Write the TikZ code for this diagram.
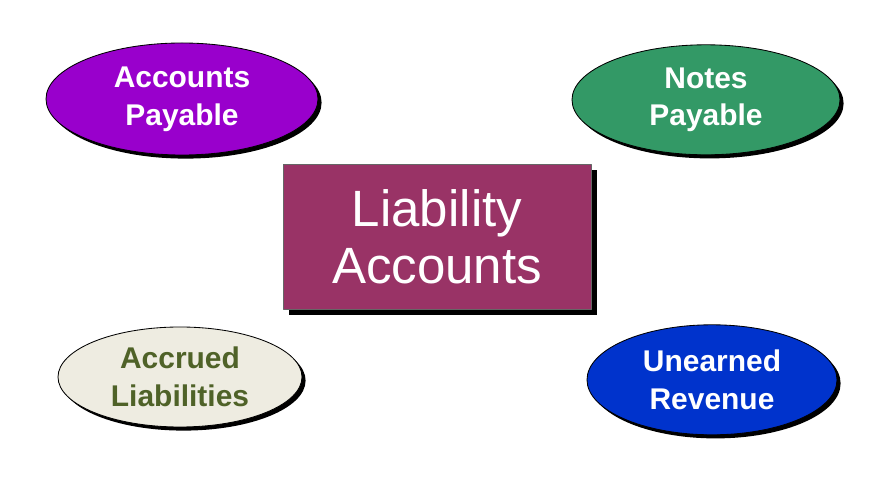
\documentclass[tikz,border=0pt]{standalone}
\usepackage{fontspec}
\setmainfont{Liberation Sans}
\usetikzlibrary{shapes.geometric,shadows}

\begin{document}
\begin{tikzpicture}[line cap=round, line join=round]

    \definecolor{apurple}{HTML}{9900CC}
    \definecolor{ngreen}{HTML}{339966}
    \definecolor{ublue}{HTML}{0033CC}
    \definecolor{abeige}{HTML}{EEECE1}
    \definecolor{aolive}{HTML}{4F6228}
    \definecolor{lplum}{HTML}{993366}

    \useasboundingbox (0,0) rectangle (22.25,12.125);

    \tikzset{
      kind/.style={
        ellipse, draw=black, line width=0.6pt, inner sep=0pt,
        text=white, align=center,
        font=\bfseries\fontsize{21.3}{27}\selectfont,
        drop shadow={shadow xshift=0.09cm, shadow yshift=-0.09cm,
                     fill=black, opacity=1}
      },
      mainbox/.style={
        rectangle, draw=black!60, line width=0.5pt, inner sep=0pt,
        fill=lplum, text=white, align=center,
        minimum width=7.7cm, minimum height=3.625cm,
        font=\fontsize{36.3}{40.5}\selectfont,
        drop shadow={shadow xshift=0.15cm, shadow yshift=-0.15cm,
                     fill=black, opacity=1}
      }
    }

    \node[mainbox] (liab) at (10.925,6.21) {Liability\\Accounts};

    \node[kind, fill=apurple, minimum width=6.8cm, minimum height=2.8cm]
      (ap) at (4.55,9.65) {Accounts\\Payable};
    \node[kind, fill=ngreen, minimum width=6.7cm, minimum height=2.75cm]
      (np) at (17.65,9.63) {Notes\\Payable};
    \node[kind, fill=abeige, text=aolive, minimum width=6.1cm, minimum height=2.5cm]
      (al) at (4.5,2.7) {Accrued\\Liabilities};
    \node[kind, fill=ublue, minimum width=6.25cm, minimum height=2.75cm]
      (ur) at (17.8,2.63) {Unearned\\Revenue};

\end{tikzpicture}
\end{document}
